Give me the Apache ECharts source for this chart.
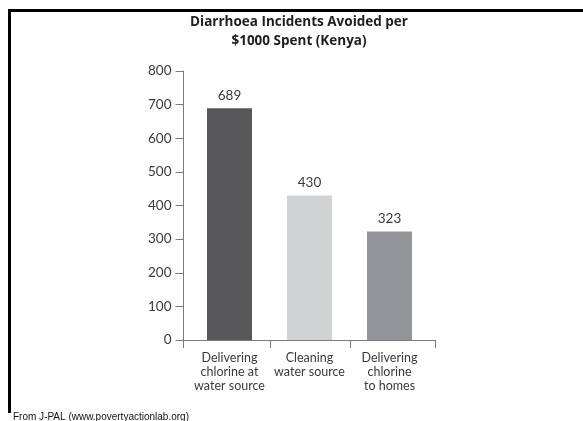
<!DOCTYPE html>
<html><head><meta charset="utf-8">
<script src="https://cdn.jsdelivr.net/npm/echarts@6/dist/echarts.min.js"></script>
<style>html,body{margin:0;padding:0;background:#fff}#c{width:583px;height:421px}</style>
</head><body><div id="c"></div>
<script>
var categories = ['Delivering\nchlorine at\nwater source', 'Cleaning\nwater source', 'Delivering\nchlorine\nto homes'];
var values = [689, 430, 323];
var barColors = ['#58585a', '#d1d2d4', '#939598'];
var yTicks = [0, 100, 200, 300, 400, 500, 600, 700, 800];

var chart = echarts.init(document.getElementById('c'), null, {renderer: 'canvas'});
var gL = 189.5, gW = 240, gT = 71, gB = 81;
var axisY = 421 - gB;
var axisCol = '#7a7a7a';
var option = {
  animation: false,
  backgroundColor: '#fff',
  title: {
    text: 'Diarrhoea Incidents Avoided per\n$1000 Spent (Kenya)',
    left: 294, top: 8, textAlign: 'center',
    textStyle: {fontFamily: 'Open Sans', fontWeight: 'bold', fontSize: 13.5, color: '#1e1e1e', lineHeight: 19}
  },
  grid: {left: gL, width: gW, top: gT, bottom: gB},
  xAxis: {
    type: 'category', data: categories,
    axisLine: {show: false}, axisTick: {show: false},
    axisLabel: {fontFamily: 'Lato', fontSize: 12.5, color: '#3a3a3a', lineHeight: 14, margin: 11, interval: 0}
  },
  yAxis: {
    type: 'value', min: yTicks[0], max: yTicks[yTicks.length - 1], interval: 100, offset: 6,
    splitLine: {show: false},
    axisLine: {show: true, lineStyle: {color: axisCol, width: 1}},
    axisTick: {show: true, length: 8, lineStyle: {color: axisCol}},
    axisLabel: {fontFamily: 'Lato', fontSize: 13.5, color: '#3a3a3a', margin: 12}
  },
  series: [{
    type: 'bar', barWidth: 45,
    data: values.map(function (v, i) { return {value: v, itemStyle: {color: barColors[i]}}; }),
    label: {show: true, position: 'top', distance: 6, fontFamily: 'Lato', fontSize: 13.5, color: '#3a3a3a'}
  }]
};
chart.setOption(option);
var yAxisX = gL - 6;
var catW = gW / categories.length;
var g = [];
g.push({type: 'line', shape: {x1: yAxisX, y1: axisY + 0.5, x2: gL + gW + 6, y2: axisY + 0.5}, style: {stroke: axisCol, lineWidth: 1}});
g.push({type: 'line', shape: {x1: yAxisX, y1: axisY, x2: yAxisX, y2: axisY + 8}, style: {stroke: axisCol, lineWidth: 1}});
for (var i = 1; i < categories.length; i++) {
  var x = Math.round(gL + catW * i) + 0.5;
  g.push({type: 'line', shape: {x1: x, y1: axisY, x2: x, y2: axisY + 8}, style: {stroke: axisCol, lineWidth: 1}});
}
g.push({type: 'line', shape: {x1: gL + gW + 6, y1: axisY, x2: gL + gW + 6, y2: axisY + 8}, style: {stroke: axisCol, lineWidth: 1}});
g.push({type: 'line', shape: {x1: 8, y1: 10.5, x2: 583, y2: 10.5}, style: {stroke: '#000', lineWidth: 3}});
g.push({type: 'line', shape: {x1: 9.5, y1: 9, x2: 9.5, y2: 413}, style: {stroke: '#000', lineWidth: 3}});
g.push({type: 'text', left: 13, top: 412, style: {text: 'From J-PAL (www.povertyactionlab.org)', fontFamily: 'Liberation Sans', fontSize: 10, fill: '#111'}});
chart.setOption({graphic: g});
</script></body></html>
